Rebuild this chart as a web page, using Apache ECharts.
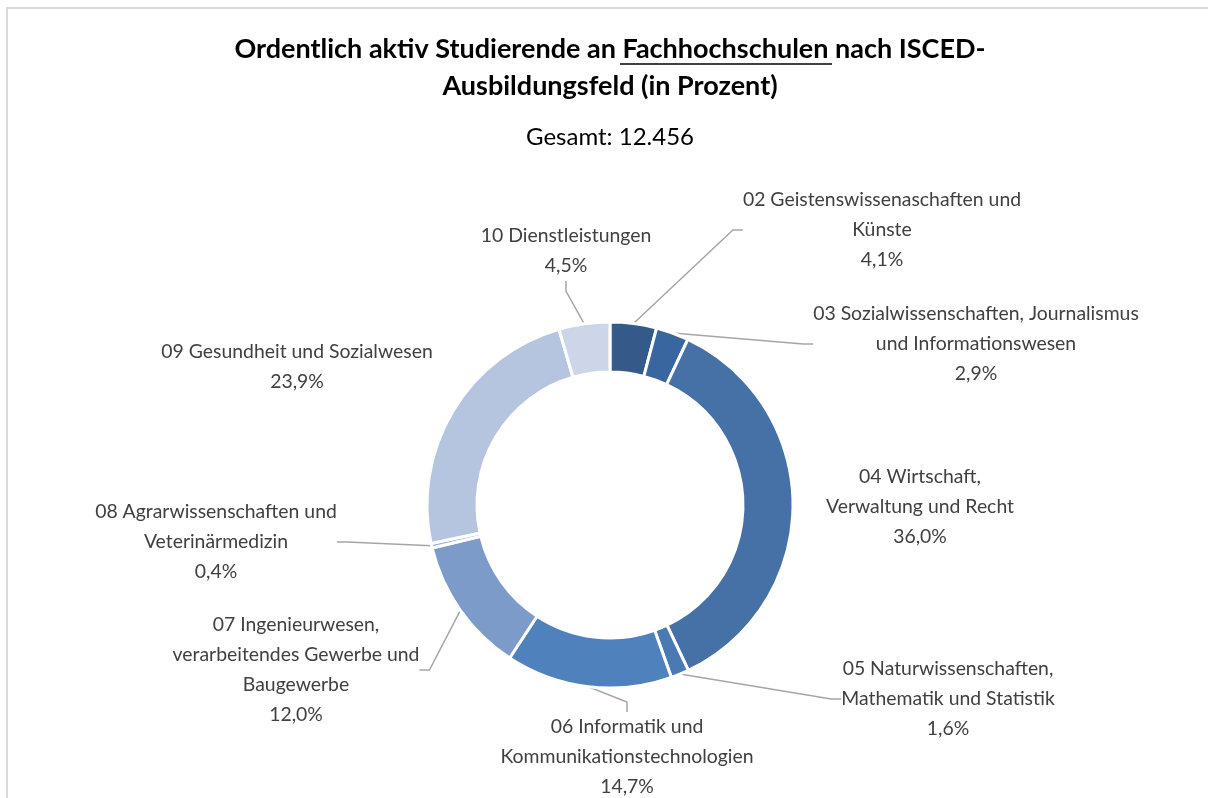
<!DOCTYPE html>
<html>
<head>
<meta charset="utf-8">
<script src="https://cdn.jsdelivr.net/npm/echarts@6/dist/echarts.min.js"></script>
<style>
html, body { margin: 0; padding: 0; background: #fff; }
#chart { width: 1208px; height: 798px; }
</style>
</head>
<body>
<div id="chart"></div>
<script>
"use strict";
var textColor = '#404040';
var fontName = 'Lato, "Open Sans", sans-serif';

var categories = [
	'02 Geistenswissenaschaften und\nKünste',
	'03 Sozialwissenschaften, Journalismus\nund Informationswesen',
	'04 Wirtschaft,\nVerwaltung und Recht',
	'05 Naturwissenschaften,\nMathematik und Statistik',
	'06 Informatik und\nKommunikationstechnologien',
	'07 Ingenieurwesen,\nverarbeitendes Gewerbe und\nBaugewerbe',
	'08 Agrarwissenschaften und\nVeterinärmedizin',
	'09 Gesundheit und Sozialwesen',
	'10 Dienstleistungen'
];
var shares = [4.1, 2.9, 36.0, 1.6, 14.7, 12.0, 0.4, 23.9, 4.5];
var colors = ['#335a88', '#3a66a0', '#4571a7', '#4a79b4', '#4f81bd', '#7d9bc8', '#9bb1d6', '#b5c4df', '#ccd6e8'];

// where Excel put each label (centre of the text block)
var labelPos = [[882, 230], [976, 344], [920, 507], [948, 699], [627, 757],
	[296, 670], [216, 542], [297, 367], [566, 251]];
var noLine = [2, 7];

function fmt(v) {
	return v.toFixed(1).replace('.', ',') + '%';
}

var chart = echarts.init(document.getElementById('chart'));

var data = categories.map(function(name, i) {
	return {
		name : name,
		value : shares[i],
		itemStyle : { color : colors[i] },
		labelLine : { show : noLine.indexOf(i) < 0 }
	};
});

chart.setOption({
	animation : false,
	graphic : [ {
		type : 'rect',
		shape : { x : 7, y : 8, width : 1400, height : 1000 },
		style : { fill : null, stroke : '#d9d9d9', lineWidth : 2 }
	}, {
		type : 'text',
		x : 610, y : 68,
		style : {
			text : 'Ordentlich aktiv Studierende an Fachhochschulen nach ISCED-\nAusbildungsfeld (in Prozent)',
			font : 'bold 27px ' + fontName,
			lineHeight : 37,
			fill : '#000',
			align : 'center',
			verticalAlign : 'middle'
		}
	}, {
		// underline under "Fachhochschulen"
		type : 'line',
		shape : { x1 : 620, y1 : 64, x2 : 832, y2 : 64 },
		style : { stroke : '#000', lineWidth : 1.5 }
	}, {
		type : 'text',
		x : 610, y : 137,
		style : {
			text : 'Gesamt: 12.456',
			font : '24px ' + fontName,
			fill : '#000',
			align : 'center',
			verticalAlign : 'middle'
		}
	} ],
	series : [ {
		type : 'pie',
		center : [ 610, 505 ],
		radius : [ 133, 183 ],
		startAngle : 90,
		clockwise : true,
		data : data,
		itemStyle : { borderColor : '#fff', borderWidth : 3 },
		label : {
			show : true,
			position : 'outside',
			formatter : function(p) {
				return p.name + '\n' + fmt(p.value);
			},
			color : textColor,
			fontFamily : fontName,
			fontSize : 19.4,
			lineHeight : 30,
			align : 'center'
		},
		labelLine : {
			length : 20,
			length2 : 10,
			lineStyle : { color : '#a6a6a6', width : 1.5 }
		},
		labelLayout : function(params) {
			var pos = labelPos[params.dataIndex];
			return {
				x : pos[0],
				y : pos[1],
				align : 'center',
				verticalAlign : 'middle'
			};
		},
		emphasis : { disabled : true }
	} ]
});
</script>
</body>
</html>
